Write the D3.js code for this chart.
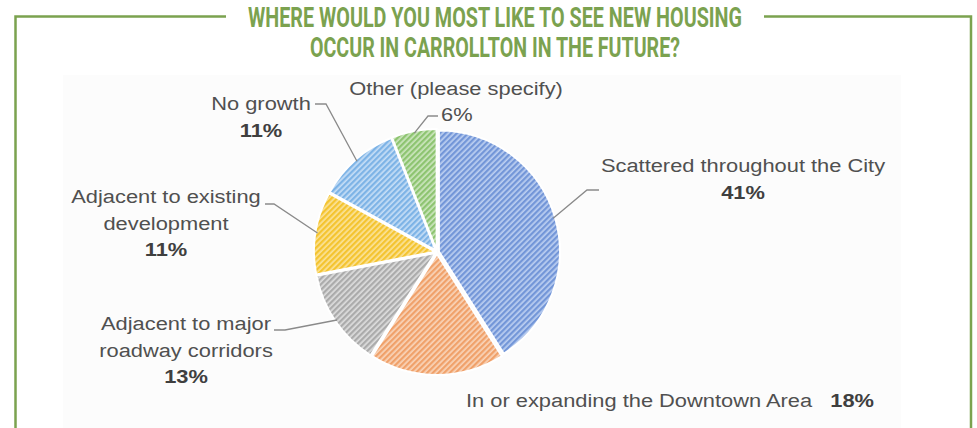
<!DOCTYPE html>
<html>
<head>
<meta charset="utf-8">
<script src="https://cdn.jsdelivr.net/npm/d3@7"></script>
<style>
  body { margin: 0; background: #fff; }
  svg { display: block; }
</style>
</head>
<body>
<div id="chart"></div>
<script>
// pie data, clockwise from 12 o'clock
const categories = [
  "Scattered throughout the City",
  "In or expanding the Downtown Area",
  "Adjacent to major roadway corridors",
  "Adjacent to existing development",
  "No growth",
  "Other (please specify)"
];
const values = [41, 18, 13, 11, 11, 6];
const baseColors = ["#7396d8", "#f0a16a", "#ababab", "#f4c430", "#7db3e6", "#8dc470"];
const stripeColors = ["#bccff1", "#f9d5ba", "#dedede", "#fbe39a", "#c6def6", "#cde6bf"];
const titleLines = ["WHERE WOULD YOU MOST LIKE TO SEE NEW HOUSING", "OCCUR IN CARROLLTON IN THE FUTURE?"];

const W = 977, H = 428;
const cx = 437, cy = 252, radius = 121;

// label layout: text lines, centre x, first baseline, leader elbow + end
const labelLayout = [
  { lines: ["Scattered throughout the City"], x: 743, y: 172, pct: "below", elbow: [587, 190], end: [599, 190] },
  { lines: ["In or expanding the Downtown Area"], x: 466, y: 407, pct: "inline" },
  { lines: ["Adjacent to major", "roadway corridors"], x: 186, y: 330, pct: "below", elbow: [285, 330], end: [274, 330] },
  { lines: ["Adjacent to existing", "development"], x: 166, y: 203, pct: "below", elbow: [274, 204], end: [265, 204] },
  { lines: ["No growth"], x: 261, y: 110, pct: "below", elbow: [326, 104], end: [315, 104] },
  { lines: ["Other (please specify)"], x: 456, y: 95, pct: "other", elbow: [428, 116], end: [438, 116] }
];

const svg = d3.select("#chart").append("svg")
  .attr("width", W)
  .attr("height", H);

// hatch patterns
const defs = svg.append("defs");
values.forEach(function(v, i) {
  const p = defs.append("pattern")
    .attr("id", "hatch" + i)
    .attr("patternUnits", "userSpaceOnUse")
    .attr("width", 4)
    .attr("height", 4)
    .attr("patternTransform", "rotate(45)");
  p.append("rect").attr("width", 4).attr("height", 4).attr("fill", stripeColors[i]);
  p.append("rect").attr("width", 2.3).attr("height", 4).attr("fill", baseColors[i]);
});

// chart image background (very faint)
svg.append("rect")
  .attr("x", 63).attr("y", 75)
  .attr("width", 838).attr("height", H - 75)
  .attr("fill", "#fcfcfc");

// green frame with gap for the title
const green = "#7ba24f";
svg.append("path")
  .attr("d", `M226,16.5 H15.5 V${H + 5} M764,16.5 H971 V${H + 5}`)
  .attr("fill", "none")
  .attr("stroke", green)
  .attr("stroke-width", 2.5);

const titleWidths = [494, 370];
svg.selectAll("text.title")
  .data(titleLines)
  .enter()
  .append("text")
  .attr("class", "title")
  .attr("x", 495)
  .attr("y", function(d, i) { return 27 + i * 30; })
  .attr("text-anchor", "middle")
  .attr("textLength", function(d, i) { return titleWidths[i]; })
  .attr("lengthAdjust", "spacingAndGlyphs")
  .style("font-family", "'Liberation Sans Narrow', 'Roboto', sans-serif")
  .style("font-weight", "bold")
  .style("font-size", "27px")
  .style("fill", green)
  .text(function(d) { return d; });

// pie
const pie = d3.pie().sort(null).value(function(d) { return d; });
const arcs = pie(values);
const arc = d3.arc().innerRadius(0).outerRadius(radius);
const edgeArc = d3.arc().innerRadius(radius).outerRadius(radius);

const g = svg.append("g").attr("transform", `translate(${cx},${cy})`);

g.selectAll("path.slice")
  .data(arcs)
  .enter()
  .append("path")
  .attr("class", "slice")
  .attr("transform", function(d) {
    const a = (d.startAngle + d.endAngle) / 2;
    return `translate(${Math.sin(a) * 2},${-Math.cos(a) * 2})`;
  })
  .attr("d", arc)
  .attr("fill", function(d, i) { return "url(#hatch" + i + ")"; })
  .attr("stroke", "#fff")
  .attr("stroke-width", 2);

// leader lines
arcs.forEach(function(d, i) {
  const L = labelLayout[i];
  if (!L.elbow) return;
  const s = edgeArc.centroid(d);
  svg.append("polyline")
    .attr("points", [[s[0] + cx, s[1] + cy], L.elbow, L.end].map(function(p) { return p.join(","); }).join(" "))
    .attr("fill", "none")
    .attr("stroke", "#8a8a8a")
    .attr("stroke-width", 1.3);
});

// labels
const textColor = "#505050";
const sx = 1.15;
function addText(x, y, anchor) {
  return svg.append("text")
    .attr("transform", `translate(${x},${y}) scale(${sx},1)`)
    .attr("text-anchor", anchor)
    .style("font-family", "'Liberation Sans', Arial, sans-serif")
    .style("font-size", "19px")
    .style("fill", textColor);
}

labelLayout.forEach(function(L, i) {
  const pctText = values[i] + "%";
  if (L.pct === "inline") {
    const t = addText(L.x, L.y, "start");
    t.append("tspan").text(L.lines[0] + "\u00a0\u00a0\u00a0");
    t.append("tspan").style("font-weight", "bold").style("fill", "#3f3f3f").text(pctText);
    return;
  }
  L.lines.forEach(function(line, j) {
    addText(L.x, L.y + j * 26.5, "middle").text(line);
  });
  if (L.pct === "other") {
    addText(L.end[0] + 3, L.y + 26, "start").text(pctText);
  } else {
    addText(L.x, L.y + L.lines.length * 26.5, "middle")
      .style("font-weight", "bold")
      .style("fill", "#3f3f3f")
      .text(pctText);
  }
});
</script>
</body>
</html>
